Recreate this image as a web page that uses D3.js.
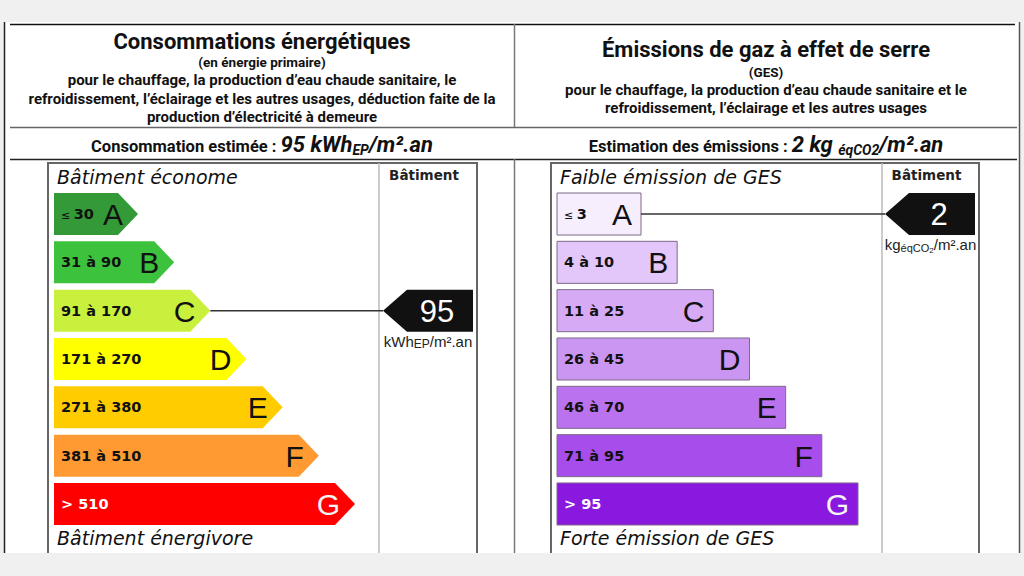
<!DOCTYPE html>
<html><head><meta charset="utf-8">
<script src="https://cdn.jsdelivr.net/npm/d3@7"></script>
<style>
html,body{margin:0;padding:0;background:#f0f0f0;}
svg{display:block;}
</style></head>
<body>
<svg id="c" width="1024" height="576"></svg>
<script>
// ---- data ----
const classes = ["A","B","C","D","E","F","G"];
const dpeRanges = ["30","31 à 90","91 à 170","171 à 270","271 à 380","381 à 510","> 510"];
const dpeColors = ["#339a37","#3cc23c","#c9f03c","#ffff00","#ffcc00","#ff9a33","#ff0000"];
const dpeTextColors = ["#111","#111","#111","#111","#111","#111","#fff"];
const gesRanges = ["3","4 à 10","11 à 25","26 à 45","46 à 70","71 à 95","> 95"];
const gesColors = ["#f6edfd","#e4c7fa","#d6aaf5","#cb95f2","#ba72ee","#a74deb","#8a19df"];
const gesTextColors = ["#111","#111","#111","#111","#111","#111","#fff"];
const dpeValue = 95, dpeClass = "C";
const gesValue = 2, gesClass = "A";

const svg = d3.select("#c");
const sans = "Roboto, 'Liberation Sans', Arial, sans-serif";
const verd = "'DejaVu Sans', Verdana, sans-serif";
const arial = "'Liberation Sans', Arial, sans-serif";

svg.append("rect").attr("x",4).attr("y",22).attr("width",1016).attr("height",531).attr("fill","#fff");
const ln = (x1,y1,x2,y2,c,w)=>svg.append("line").attr("x1",x1).attr("y1",y1).attr("x2",x2).attr("y2",y2).attr("stroke",c).attr("stroke-width",w);
ln(4.5,22,4.5,553,"#222",1.5);
ln(1019.5,22,1019.5,553,"#555",1.5);
ln(10,24.5,1015,24.5,"#111",1.5);
ln(10,127.5,1017,127.5,"#666",1.5);
ln(10,159.5,1017,159.5,"#222",1.5);
ln(514.5,24,514.5,127,"#777",1.5);
ln(514.5,159,514.5,553,"#777",1.5);

function centered(x,y,txt,size,weight){
  return svg.append("text").attr("x",x).attr("y",y).attr("text-anchor","middle")
    .attr("font-family",sans).attr("font-size",size).attr("font-weight",weight||"bold").attr("fill","#111").text(txt);
}
centered(262,49,"Consommations énergétiques",22);
centered(262,67,"(en énergie primaire)",13.5);
centered(262,85,"pour le chauffage, la production d’eau chaude sanitaire, le",15);
centered(262,104,"refroidissement, l’éclairage et les autres usages, déduction faite de la",15);
centered(262,122,"production d’électricité à demeure",15);

centered(766,57,"Émissions de gaz à effet de serre",22);
centered(766,77,"(GES)",13.5);
centered(766,95,"pour le chauffage, la production d’eau chaude sanitaire et le",15);
centered(766,113,"refroidissement, l’éclairage et les autres usages",15);

let t1 = svg.append("text").attr("x",262).attr("y",152).attr("text-anchor","middle").attr("font-family",sans).attr("font-weight","bold").attr("fill","#111");
t1.append("tspan").attr("font-size",16.5).text("Consommation estimée : ");
t1.append("tspan").attr("font-size",22).attr("font-style","italic").text(dpeValue+" kWh");
t1.append("tspan").attr("font-size",14).attr("font-style","italic").attr("dy",3).text("EP");
t1.append("tspan").attr("font-size",22).attr("font-style","italic").attr("dy",-3).text("/m².an");

let t2 = svg.append("text").attr("x",766).attr("y",152).attr("text-anchor","middle").attr("font-family",sans).attr("font-weight","bold").attr("fill","#111");
t2.append("tspan").attr("font-size",16.5).text("Estimation des émissions : ");
t2.append("tspan").attr("font-size",22).attr("font-style","italic").text(gesValue+" kg ");
t2.append("tspan").attr("font-size",14).attr("font-style","italic").attr("dy",3).text("éqCO2");
t2.append("tspan").attr("font-size",22).attr("font-style","italic").attr("dy",-3).text("/m².an");

const y = d3.scaleBand().domain(classes).range([193,525]).paddingInner(0.13).paddingOuter(0);
const len = d3.scaleLinear().domain([0,6]).range([84,301]);
const h = y.bandwidth();

function panel(opt){
  const g = svg.append("g");
  g.append("line").attr("x1",opt.boxL).attr("y1",162).attr("x2",opt.boxL).attr("y2",553).attr("stroke","#666").attr("stroke-width",2);
  g.append("line").attr("x1",opt.boxR).attr("y1",162).attr("x2",opt.boxR).attr("y2",553).attr("stroke","#666").attr("stroke-width",2);
  g.append("line").attr("x1",opt.boxL-1).attr("y1",163).attr("x2",opt.boxR+1).attr("y2",163).attr("stroke","#666").attr("stroke-width",2);
  g.append("line").attr("x1",opt.div).attr("y1",163).attr("x2",opt.div).attr("y2",553).attr("stroke","#bbb").attr("stroke-width",1.5);
  g.append("text").attr("x",opt.boxL+9).attr("y",184).attr("font-family",verd).attr("font-style","italic").attr("font-size",19).attr("fill","#111").text(opt.top);
  g.append("text").attr("x",opt.boxL+9).attr("y",545).attr("font-family",verd).attr("font-style","italic").attr("font-size",19).attr("fill","#111").text(opt.bottom);
  g.append("text").attr("x",(opt.div+opt.boxR)/2-4).attr("y",180).attr("text-anchor","middle").attr("font-family",verd).attr("font-weight","bold").attr("font-size",13.5).attr("fill","#222").text("Bâtiment");

  const x0 = opt.x0;
  const bars = g.selectAll("g.bar").data(classes).join("g").attr("class","bar");
  bars.append("path")
    .attr("d",(d,i)=>{
      const w = len(i), yy = y(d);
      if(opt.arrow){
        return `M${x0},${yy}L${x0+w-20},${yy}L${x0+w},${yy+h/2}L${x0+w-20},${yy+h}L${x0},${yy+h}Z`;
      }
      return `M${x0},${yy}H${x0+w}V${yy+h}H${x0}Z`;
    })
    .attr("fill",(d,i)=>opt.colors[i])
    .attr("stroke",opt.arrow?"none":"#7d6a88").attr("stroke-width",1);
  const lab = bars.append("text").attr("x",x0+7).attr("y",d=>y(d)+h/2+5)
    .attr("font-family",verd).attr("font-weight","bold").attr("font-size",14.5)
    .attr("fill",(d,i)=>opt.textColors[i]);
  lab.each(function(d,i){
    const s = d3.select(this);
    if(i===0){
      s.append("tspan").attr("font-size",11).attr("font-weight","normal").text("≤ ");
      s.append("tspan").text(opt.ranges[i]);
    } else s.text(opt.ranges[i]);
  });
  bars.append("text").attr("x",(d,i)=>x0+len(i)-(opt.arrow?15:9)).attr("y",d=>y(d)+h/2+11)
    .attr("text-anchor","end").attr("font-family",arial).attr("font-size",30)
    .attr("fill",(d,i)=>i===6?"#f4f4f4":"#111").text(d=>d);

  const ci = classes.indexOf(opt.cls), yy = y(opt.cls);
  g.append("line").attr("x1",x0+len(ci)).attr("y1",yy+h/2).attr("x2",opt.tip).attr("y2",yy+h/2).attr("stroke","#333").attr("stroke-width",1.5);
  g.append("path").attr("d",`M${opt.tip},${yy+h/2}L${opt.tip+24},${yy}H${opt.boxR-4}V${yy+h}H${opt.tip+24}Z`).attr("fill","#111");
  g.append("text").attr("x",(opt.tip+24+opt.boxR-4)/2-3).attr("y",yy+h/2+11).attr("text-anchor","middle")
    .attr("font-family",arial).attr("font-size",31).attr("fill","#fff").text(opt.value);
  const u = g.append("text").attr("x",(opt.div+opt.boxR)/2).attr("y",yy+h+15).attr("text-anchor","middle")
    .attr("font-family",arial).attr("font-size",15).attr("fill","#222");
  opt.unit(u);
}

panel({boxL:48,boxR:477,div:379,x0:54,tip:383,arrow:true,colors:dpeColors,textColors:dpeTextColors,ranges:dpeRanges,
  top:"Bâtiment économe",bottom:"Bâtiment énergivore",cls:dpeClass,value:dpeValue,
  unit:u=>{u.append("tspan").text("kWh");u.append("tspan").attr("font-size",12).attr("dy",1).text("EP");u.append("tspan").attr("dy",-1).text("/m².an");}});
panel({boxL:551,boxR:979,div:882,x0:557,tip:885,arrow:false,colors:gesColors,textColors:gesTextColors,ranges:gesRanges,
  top:"Faible émission de GES",bottom:"Forte émission de GES",cls:gesClass,value:gesValue,
  unit:u=>{u.append("tspan").text("kg");u.append("tspan").attr("font-size",11).attr("dy",2).text("éqCO");u.append("tspan").attr("font-size",8).attr("dy",1).text("2");u.append("tspan").attr("dy",-3).text("/m².an");}});
</script>
</body></html>
